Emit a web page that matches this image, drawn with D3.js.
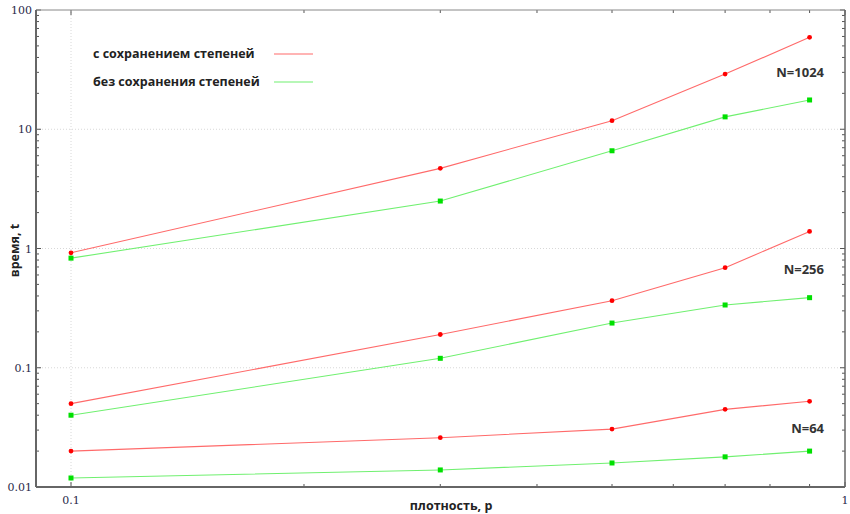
<!DOCTYPE html>
<html>
<head>
<meta charset="utf-8">
<script src="https://cdn.jsdelivr.net/npm/d3@7"></script>
<style>
  body { margin: 0; background: #fff; }
  svg { display: block; }
  .tick-label { font-family: "DejaVu Serif", serif; font-size: 11px; fill: #2a2a4a; }
  .axis-title { font-family: "Open Sans", sans-serif; font-size: 12.5px; font-weight: bold; fill: #222; }
  .legend-text { font-family: "Open Sans", sans-serif; font-size: 12.5px; font-weight: bold; fill: #222; }
  .n-label { font-family: "Open Sans", sans-serif; font-size: 13px; font-weight: bold; fill: #333; }
</style>
</head>
<body>
<div id="chart"></div>
<script>
// densities on the x axis
const densities = [0.1, 0.3, 0.5, 0.7, 0.9];

// time, with degree preservation (red) / without (green)
const keep1024 = [0.92, 4.7, 11.8, 29, 59];
const free1024 = [0.83, 2.5, 6.6, 12.7, 17.6];
const keep256 = [0.05, 0.19, 0.365, 0.69, 1.39];
const free256 = [0.04, 0.12, 0.237, 0.336, 0.387];
const keep64 = [0.02, 0.0259, 0.0306, 0.0448, 0.0523];
const free64 = [0.0119, 0.0139, 0.0159, 0.0179, 0.02];

const sizeLabels = ["N=1024", "N=256", "N=64"];
const sizeLabelY = [30, 0.67, 0.031];

const xTicks = [0.1, 1];
const yTicks = [0.01, 0.1, 1, 10, 100];
const yTickLabels = ["0.01", "0.1", "1", "10", "100"];

const legendLabels = ["с сохранением степеней", "без сохранения степеней"];

var width = 850, height = 514;
var margin = { top: 10, right: 5, bottom: 27, left: 36 };
var innerH = height - margin.top - margin.bottom;

var svg = d3.select("#chart")
  .append("svg")
  .attr("width", width)
  .attr("height", height);

// x=0.1 sits a bit right of the frame's left edge
var x = d3.scaleLog().domain([0.1, 1]).range([71, width - margin.right]);
var y = d3.scaleLog().domain([0.01, 100]).range([margin.top + innerH, margin.top]);

var x0 = margin.left, x1 = width - margin.right;
var y0 = margin.top + innerH, y1 = margin.top;

// grid (dotted, at major ticks only)
var grid = svg.append("g").attr("stroke", "#d8d8d8").attr("stroke-dasharray", "1,2");
grid.selectAll("line.gx")
  .data([0.1])
  .enter().append("line")
  .attr("x1", (d) => x(d)).attr("x2", (d) => x(d))
  .attr("y1", y0).attr("y2", y1);
grid.selectAll("line.gy")
  .data([0.1, 1, 10])
  .enter().append("line")
  .attr("y1", (d) => y(d)).attr("y2", (d) => y(d))
  .attr("x1", x0).attr("x2", x1);

// minor/major ticks
var xMinor = [0.2, 0.3, 0.4, 0.5, 0.6, 0.7, 0.8, 0.9];
var yMinor = [];
[0.01, 0.1, 1, 10].forEach(function (dec) {
  for (let k = 2; k <= 9; k++) yMinor.push(dec * k);
});

var ticks = svg.append("g").attr("stroke", "#555").attr("stroke-width", 1);
function tickX(vals, len) {
  vals.forEach(function (v) {
    ticks.append("line").attr("x1", x(v)).attr("x2", x(v)).attr("y1", y0).attr("y2", y0 - len);
    ticks.append("line").attr("x1", x(v)).attr("x2", x(v)).attr("y1", y1).attr("y2", y1 + len);
  });
}
function tickY(vals, len) {
  vals.forEach(function (v) {
    ticks.append("line").attr("y1", y(v)).attr("y2", y(v)).attr("x1", x0).attr("x2", x0 + len);
    ticks.append("line").attr("y1", y(v)).attr("y2", y(v)).attr("x1", x1).attr("x2", x1 - len);
  });
}
tickX(xMinor, 3);
tickX(xTicks, 5);
tickY(yMinor, 3);
tickY(yTicks, 5);

// frame
svg.append("line").attr("x1", x0).attr("x2", x1).attr("y1", y1).attr("y2", y1)
  .attr("stroke", "#888").attr("stroke-width", 1);
svg.append("line").attr("x1", x1).attr("x2", x1).attr("y1", y1).attr("y2", y0)
  .attr("stroke", "#666").attr("stroke-width", 1.5);
svg.append("line").attr("x1", x0).attr("x2", x1).attr("y1", y0).attr("y2", y0)
  .attr("stroke", "#666").attr("stroke-width", 2);
svg.append("line").attr("x1", x0).attr("x2", x0).attr("y1", y1).attr("y2", y0)
  .attr("stroke", "#666").attr("stroke-width", 2);

// tick labels
svg.selectAll("text.xt")
  .data(xTicks)
  .enter().append("text")
  .attr("class", "tick-label")
  .attr("x", (d) => x(d))
  .attr("y", y0 + 17)
  .attr("text-anchor", "middle")
  .text((d) => d);

svg.selectAll("text.yt")
  .data(yTicks)
  .enter().append("text")
  .attr("class", "tick-label")
  .attr("x", x0 - 4)
  .attr("y", (d) => y(d) + 4)
  .attr("text-anchor", "end")
  .text((d, i) => yTickLabels[i]);

// axis titles
svg.append("text")
  .attr("class", "axis-title")
  .attr("x", 451)
  .attr("y", y0 + 23)
  .attr("text-anchor", "middle")
  .text("плотность, p");

svg.append("text")
  .attr("class", "axis-title")
  .attr("transform", "translate(19," + (y(1) + 2) + ") rotate(-90)")
  .attr("text-anchor", "middle")
  .text("время, t");

// series
var series = [
  { values: keep1024, kind: "keep" },
  { values: free1024, kind: "free" },
  { values: keep256, kind: "keep" },
  { values: free256, kind: "free" },
  { values: keep64, kind: "keep" },
  { values: free64, kind: "free" },
];

var lineColor = { keep: "#ff6a6a", free: "#70f070" };
var pointColor = { keep: "#ff0000", free: "#00e000" };

var line = d3.line()
  .x((d) => x(d[0]))
  .y((d) => y(d[1]));

series.forEach(function (s) {
  var pts = densities.map((dx, i) => [dx, s.values[i]]);
  svg.append("path")
    .datum(pts)
    .attr("fill", "none")
    .attr("stroke", lineColor[s.kind])
    .attr("stroke-width", 1.1)
    .attr("d", line);

  if (s.kind === "keep") {
    svg.selectAll(null)
      .data(pts)
      .enter().append("circle")
      .attr("cx", (d) => x(d[0]))
      .attr("cy", (d) => y(d[1]))
      .attr("r", 2.4)
      .attr("fill", pointColor[s.kind]);
  } else {
    svg.selectAll(null)
      .data(pts)
      .enter().append("rect")
      .attr("x", (d) => x(d[0]) - 2.5)
      .attr("y", (d) => y(d[1]) - 2.5)
      .attr("width", 5)
      .attr("height", 5)
      .attr("fill", pointColor[s.kind]);
  }
});

// N labels
svg.selectAll("text.n")
  .data(sizeLabels)
  .enter().append("text")
  .attr("class", "n-label")
  .attr("x", 824)
  .attr("y", (d, i) => y(sizeLabelY[i]) + 5)
  .attr("text-anchor", "end")
  .text((d) => d);

// legend
var legend = svg.append("g");
legendLabels.forEach(function (lbl, i) {
  var ly = 54 + i * 28;
  legend.append("text")
    .attr("class", "legend-text")
    .attr("x", 93)
    .attr("y", ly + 4)
    .text(lbl);
  legend.append("line")
    .attr("x1", 274).attr("x2", 313)
    .attr("y1", ly).attr("y2", ly)
    .attr("stroke", i === 0 ? lineColor.keep : lineColor.free)
    .attr("stroke-width", 1.2);
});
</script>
</body>
</html>
